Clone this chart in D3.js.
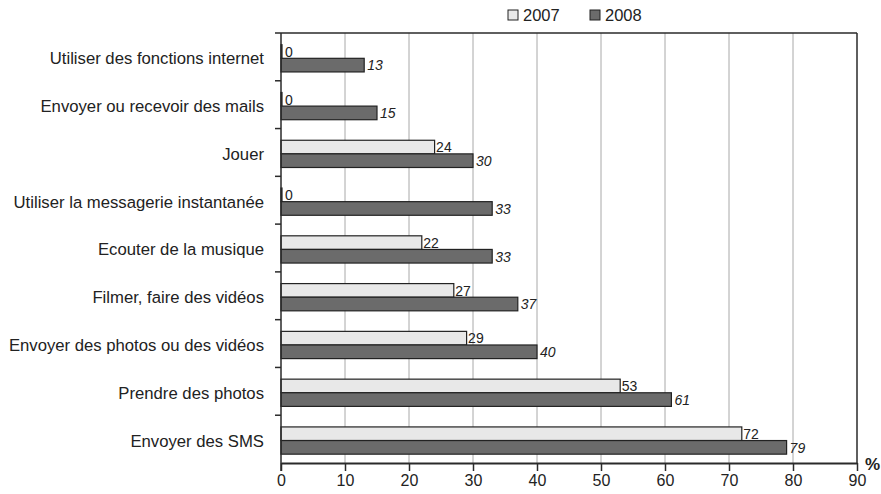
<!DOCTYPE html>
<html>
<head>
<meta charset="utf-8">
<script src="https://cdn.jsdelivr.net/npm/d3@7"></script>
<style>
  body { margin: 0; background: #fff; }
  text { font-family: "Liberation Sans", Arial, sans-serif; fill: #222; }
</style>
</head>
<body>
<svg id="chart" width="881" height="494"></svg>
<script>
// Categories, top to bottom
var categories = [
  "Utiliser des fonctions internet",
  "Envoyer ou recevoir des mails",
  "Jouer",
  "Utiliser la messagerie instantanée",
  "Ecouter de la musique",
  "Filmer, faire des vidéos",
  "Envoyer des photos ou des vidéos",
  "Prendre des photos",
  "Envoyer des SMS"
];
var values2007 = [0, 0, 24, 0, 22, 27, 29, 53, 72];
var values2008 = [13, 15, 30, 33, 33, 37, 40, 61, 79];
var seriesNames = ["2007", "2008"];
var xTicks = [0, 10, 20, 30, 40, 50, 60, 70, 80, 90];

// Plot area (avoid "top", it is a window global)
var plotLeft = 281, plotRight = 857, plotTop = 33, plotBottom = 463;

var svg = d3.select("#chart");

var x = d3.scaleLinear()
  .domain([0, 90])
  .range([plotLeft, plotRight]);

var y = d3.scaleBand()
  .domain(categories)
  .range([plotTop, plotBottom]);

var bw = y.bandwidth();
var barH = bw * 0.285;
var barOff = bw * 0.245;

// Vertical grid lines
svg.append("g")
  .selectAll("line")
  .data(xTicks.slice(1, -1))
  .enter().append("line")
  .attr("x1", function(d) { return x(d); })
  .attr("x2", function(d) { return x(d); })
  .attr("y1", plotTop)
  .attr("y2", plotBottom)
  .attr("stroke", "#a8a8a8")
  .attr("stroke-width", 1);

// Bars
var rows = categories.map(function(c, i) {
  return { cat: c, v: [values2007[i], values2008[i]] };
});

var fills = ["#e8e8e8", "#6b6b6b"];

var g = svg.selectAll(".row")
  .data(rows)
  .enter().append("g")
  .attr("class", "row")
  .attr("transform", function(d) { return "translate(0," + y(d.cat) + ")"; });

[0, 1].forEach(function(s) {
  g.append("rect")
    .attr("x", x(0))
    .attr("y", barOff + s * barH)
    .attr("width", function(d) { return Math.max(x(d.v[s]) - x(0), 1); })
    .attr("height", barH)
    .attr("fill", function(d) { return d.v[s] === 0 ? "#222" : fills[s]; })
    .attr("stroke", "#222")
    .attr("stroke-width", 1.2);

  // value labels: 2007 upright, 2008 italic
  g.append("text")
    .attr("x", function(d) {
      return x(d.v[s]) + (d.v[s] === 0 ? 4 : (s === 1 ? 3 : 1.5));
    })
    .attr("y", barOff + (s + 1) * barH - 1.5)
    .style("font-size", "14px")
    .style("font-style", s === 1 ? "italic" : "normal")
    .text(function(d) { return d.v[s]; });
});

// Category labels
svg.append("g")
  .selectAll("text")
  .data(categories)
  .enter().append("text")
  .attr("x", 264)
  .attr("y", function(d) { return y(d) + barOff + barH + 6; })
  .attr("text-anchor", "end")
  .style("font-size", "16.7px")
  .text(function(d) { return d; });

// Frame: top and right
svg.append("line")
  .attr("x1", 275).attr("x2", plotRight)
  .attr("y1", plotTop).attr("y2", plotTop)
  .attr("stroke", "#2a2a2a").attr("stroke-width", 1.5);
svg.append("line")
  .attr("x1", plotRight).attr("x2", plotRight)
  .attr("y1", plotTop).attr("y2", plotBottom)
  .attr("stroke", "#2a2a2a").attr("stroke-width", 1.5);

// Left axis with category boundary ticks
svg.append("line")
  .attr("x1", plotLeft).attr("x2", plotLeft)
  .attr("y1", plotTop).attr("y2", plotBottom + 8)
  .attr("stroke", "#2a2a2a").attr("stroke-width", 1.5);
svg.append("g")
  .selectAll("line")
  .data(categories.slice(1))
  .enter().append("line")
  .attr("x1", 275).attr("x2", plotLeft)
  .attr("y1", function(d) { return y(d); })
  .attr("y2", function(d) { return y(d); })
  .attr("stroke", "#2a2a2a").attr("stroke-width", 1.5);

// Bottom axis
var xAxis = d3.axisBottom(x)
  .tickValues(xTicks)
  .tickSize(8)
  .tickPadding(4)
  .tickSizeOuter(0);

var ax = svg.append("g")
  .attr("transform", "translate(0," + plotBottom + ")")
  .call(xAxis);
ax.select(".domain").attr("stroke", "#2a2a2a").attr("stroke-width", 2);
ax.selectAll(".tick line").attr("stroke", "#2a2a2a").attr("stroke-width", 1.5);
ax.selectAll(".tick text")
  .style("font-size", "16px")
  .style("font-family", "Liberation Sans, Arial, sans-serif")
  .attr("fill", "#222");

svg.append("text")
  .attr("x", 865)
  .attr("y", 470)
  .style("font-size", "17px")
  .style("font-weight", "bold")
  .text("%");

// Legend
var legend = svg.selectAll(".legend")
  .data(seriesNames)
  .enter().append("g")
  .attr("class", "legend")
  .attr("transform", function(d, i) { return "translate(" + (508 + i * 82) + ",10)"; });

legend.append("rect")
  .attr("width", 10)
  .attr("height", 10)
  .attr("fill", function(d, i) { return fills[i]; })
  .attr("stroke", "#222")
  .attr("stroke-width", 1);

legend.append("text")
  .attr("x", 15)
  .attr("y", 11)
  .style("font-size", "16.5px")
  .text(function(d) { return d; });
</script>
</body>
</html>
